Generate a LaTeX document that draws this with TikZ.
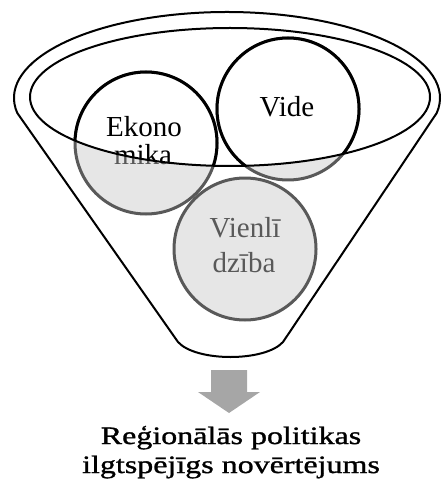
\documentclass[tikz,border=0pt]{standalone}
\usepackage{fontspec}
\setmainfont{Liberation Serif}
\newfontfamily\widefont[FakeStretch=1.28,FakeBold=1.2]{Liberation Serif}
\definecolor{ringgray}{HTML}{595959}
\definecolor{fillgray}{HTML}{E6E6E6}
\definecolor{arrowgray}{HTML}{A6A6A6}
\tikzset{
	lbl/.style={anchor=base,inner sep=0pt,font=\fontsize{29}{33}\selectfont},
	title/.style={anchor=base,inner sep=0pt,font=\widefont\fontsize{25}{29}\selectfont},
	ballout/.style={draw=ringgray,fill=fillgray,line width=3pt},
	ballin/.style={draw=black,fill=white,line width=3pt},
	rim/.style={draw=black,line width=2pt}
}
\newcommand{\balllabels}[2]{%
	\node[lbl,#1] (eko1#2) at (144,137) {Ekono};
	\node[lbl,#1] (eko2#2) at (143,165) {mika};
	\node[lbl,#1] (vide#2) at (287,117) {Vide};
	\node[lbl,#1] (vien1#2) at (245,237) {Vienlī};
	\node[lbl,#1] (vien2#2) at (244,272) {dzība};
}
\begin{document}
\begin{tikzpicture}[x=1pt,y=-1pt,line join=round,line cap=round]
				\def\ox{227}\def\oy{98}\def\ix{230}\def\iy{97}
				\useasboundingbox (0,0) rectangle (441,486);
				\draw[rim] (\ox,\oy) ++(170:213 and 86) arc[start angle=170,end angle=370,x radius=213,y radius=86]
					-- (283,342) .. controls (265,362) and (196,362) .. (178,342) -- cycle;
				\foreach \bx/\by in {245/249,146/143,288/109}
					\draw[ballout] (\bx,\by) circle[radius=71];
				\balllabels{ringgray}{g}
				\begin{scope}
					\clip (\ix,\iy) ellipse[x radius=200,y radius=69];
					\foreach \bx/\by in {146/143,288/109}
						\draw[ballin] (\bx,\by) circle[radius=71];
					\balllabels{black}{b}
				\end{scope}
				\draw[rim] (\ix,\iy) ellipse[x radius=200,y radius=69];
				\fill[arrowgray] (211,370) -- (247,370) -- (247,392) -- (260,392) -- (229,413) -- (198,392) -- (211,392) -- cycle;
				\node[title] (line1) at (231,444) {Reģionālās politikas};
				\node[title] (line2) at (231,473) {ilgtspējīgs novērtējums};
			\end{tikzpicture}
\end{document}
